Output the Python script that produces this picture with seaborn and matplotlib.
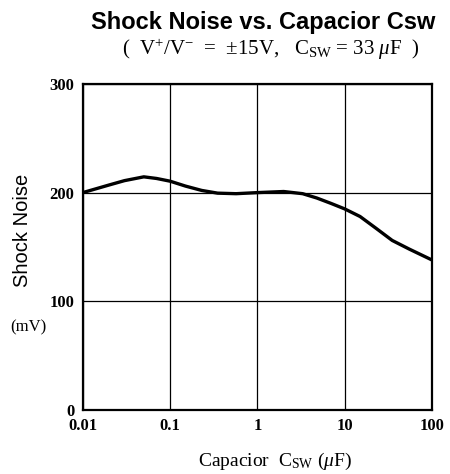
import numpy as np
import pandas as pd
import seaborn as sns
import matplotlib.pyplot as plt
from matplotlib.ticker import FixedLocator, FixedFormatter, NullLocator

# Shock noise vs. switching capacitor
cap_uF = [0.01, 0.02, 0.03, 0.05, 0.07, 0.1, 0.15, 0.23, 0.35, 0.57, 1,
          2, 3.3, 4.8, 7, 10, 15, 23, 35, 55, 100]
noise_mV = [200, 207, 211, 214.5, 213, 210.5, 206, 202, 199.5, 199, 200,
            201, 199, 195, 190, 185, 178, 167, 156, 148, 138]

x_ticks = [0.01, 0.1, 1, 10, 100]
x_labels = ["0.01", "0.1", "1", "10", "100"]
y_ticks = [0, 100, 200, 300]
y_labels = ["0", "100", "200", "300"]

df = pd.DataFrame({"cap": cap_uF, "noise": noise_mV})

sns.set_style("white")
plt.rcParams["text.color"] = "black"
plt.rcParams["mathtext.fontset"] = "custom"
plt.rcParams["mathtext.rm"] = "Liberation Serif"
plt.rcParams["mathtext.it"] = "Liberation Serif:italic"

fig = plt.figure(figsize=(4.5, 4.74), dpi=100)
ax = fig.add_axes([0.184, 0.135, 0.776, 0.688])

sns.lineplot(data=df, x="cap", y="noise", color="black", linewidth=2.4, ax=ax)

ax.set_xscale("log")
ax.set_xlim(0.01, 100)
ax.set_ylim(0, 300)
ax.xaxis.set_major_locator(FixedLocator(x_ticks))
ax.xaxis.set_major_formatter(FixedFormatter(x_labels))
ax.xaxis.set_minor_locator(NullLocator())
ax.yaxis.set_major_locator(FixedLocator(y_ticks))
ax.yaxis.set_major_formatter(FixedFormatter(y_labels))

ax.grid(True, which="major", color="black", linewidth=0.9)
for s in ax.spines.values():
    s.set_color("black")
    s.set_linewidth(1.6)
ax.tick_params(length=0, pad=6, labelcolor="black")
for lab in ax.get_xticklabels() + ax.get_yticklabels():
    lab.set_family("Liberation Serif")
    lab.set_fontweight("bold")
    lab.set_fontsize(12)

ax.set_xlabel("")
ax.set_ylabel("")
fig.text(0.61, 0.026, r"Capacior  C$_{\rm SW}$ ($\mu$F)", ha="center", va="center",
         family="Liberation Serif", fontsize=14)
fig.text(0.05, 0.515, "Shock Noise", rotation=90, ha="center", va="center",
         family="Liberation Sans", fontsize=14.5)
fig.text(0.062, 0.31, "(mV)", ha="center", va="center",
         family="Liberation Serif", fontsize=12)

fig.text(0.585, 0.952, "Shock Noise vs. Capacior Csw", ha="center", va="center",
         family="Liberation Sans", fontweight="bold", fontsize=17)
fig.text(0.602, 0.895, r"(  V$^{+}$/V$^{-}$  =  ±15V,   C$_{\rm SW}$ = 33 $\mu$F  )",
         ha="center", va="center", family="Liberation Serif", fontsize=15)

fig.savefig("out.png", dpi=100)
